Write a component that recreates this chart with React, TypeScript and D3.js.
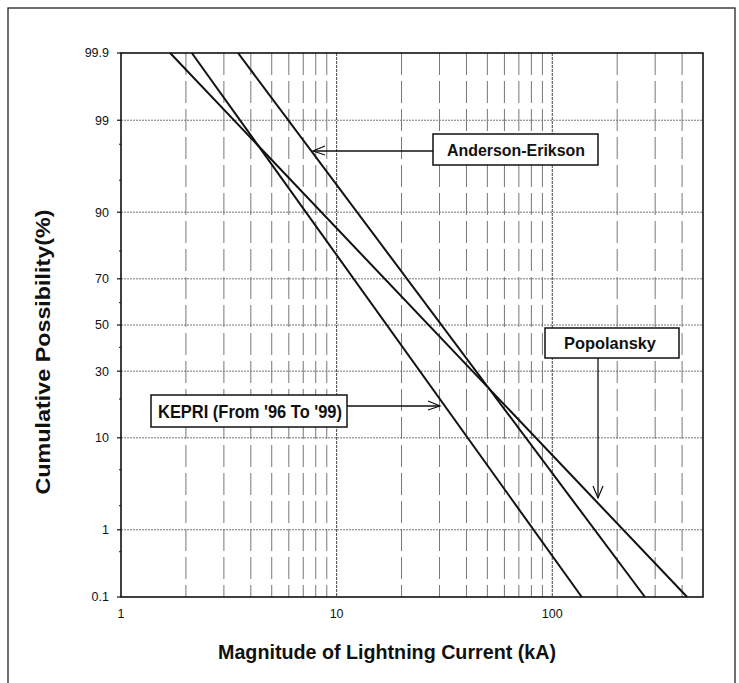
import * as d3 from 'd3'

// y tick probabilities (%)
const probTicks = [0.1, 1, 10, 30, 50, 70, 90, 99, 99.9]
const probMinor = [0.5, 2, 5, 20, 40, 60, 80, 95, 98]
const currentTicks = [1, 10, 100]
const currentGrid = [2, 3, 4, 5, 6, 7, 8, 9, 10, 20, 30, 40, 50, 60, 70, 80, 90, 100, 200, 300, 400]

const kepri = [
  { kA: 2.13, p: 99.9 },
  { kA: 137, p: 0.1 },
]
const andersonErikson = [
  { kA: 3.49, p: 99.9 },
  { kA: 269, p: 0.1 },
]
const popolansky = [
  { kA: 1.69, p: 99.9 },
  { kA: 422, p: 0.1 },
]

// inverse normal cdf (Acklam)
function probit(p: number) {
  const a = [-39.69683028665376, 220.9460984245205, -275.9285104469687, 138.357751867269, -30.66479806614716, 2.506628277459239]
  const b = [-54.47609879822406, 161.5858368580409, -155.6989798598866, 66.80131188771972, -13.28068155288572]
  const c = [-0.007784894002430293, -0.3223964580411365, -2.400758277161838, -2.549671985200290, 4.374664141464968, 2.938163982698783]
  const d = [0.007784695709041462, 0.3224671290700398, 2.445134137142996, 3.754408661907416]
  const pl = 0.02425
  if (p < pl) {
    const q = Math.sqrt(-2 * Math.log(p))
    return (((((c[0] * q + c[1]) * q + c[2]) * q + c[3]) * q + c[4]) * q + c[5]) / ((((d[0] * q + d[1]) * q + d[2]) * q + d[3]) * q + 1)
  }
  if (p <= 1 - pl) {
    const q = p - 0.5
    const r = q * q
    return ((((((a[0] * r + a[1]) * r + a[2]) * r + a[3]) * r + a[4]) * r + a[5]) * q) / (((((b[0] * r + b[1]) * r + b[2]) * r + b[3]) * r + b[4]) * r + 1)
  }
  const q = Math.sqrt(-2 * Math.log(1 - p))
  return -(((((c[0] * q + c[1]) * q + c[2]) * q + c[3]) * q + c[4]) * q + c[5]) / ((((d[0] * q + d[1]) * q + d[2]) * q + d[3]) * q + 1)
}

const W = 739
const H = 683
const left = 121
const right = 703
const top = 53
const bottom = 597
const font = '"Liberation Sans", Arial, Helvetica, sans-serif'

export default function App() {
  const x = d3.scaleLog().domain([1, 500]).range([left, right])
  const z = d3.scaleLinear().domain([probit(0.001), probit(0.999)]).range([bottom, top])
  const y = (p: number) => z(probit(p / 100))

  const line = d3
    .line<{ kA: number; p: number }>()
    .x((d) => x(d.kA))
    .y((d) => y(d.p))

  const series = [kepri, andersonErikson, popolansky]

  return (
    <svg width={W} height={H} style={{ position: 'absolute', left: 0, top: 0, background: '#fff' }} fontFamily={font}>
      <rect x={8} y={8} width={727} height={700} fill="none" stroke="#222" strokeWidth={1.3} />

      {/* horizontal grid */}
      {probTicks.slice(1, -1).map((p) => (
        <line key={'h' + p} x1={left} x2={right} y1={y(p)} y2={y(p)} stroke="#777" strokeWidth={1} strokeDasharray="2 1" />
      ))}
      {/* vertical grid */}
      {currentGrid.map((v) => {
        const major = v === 10 || v === 100
        return (
          <line
            key={'v' + v}
            x1={x(v)}
            x2={x(v)}
            y1={top}
            y2={bottom}
            stroke={major ? '#444' : '#777'}
            strokeWidth={1}
            strokeDasharray={major ? '3 1' : '22 6'}
          />
        )
      })}

      {/* frame */}
      <rect x={left} y={top} width={right - left} height={bottom - top} fill="none" stroke="#111" strokeWidth={1.6} />

      {/* y ticks */}
      {probTicks.map((p) => (
        <g key={'yt' + p}>
          <line x1={left - 4} x2={left} y1={y(p)} y2={y(p)} stroke="#111" strokeWidth={1.2} />
          <text x={109} y={y(p)} dy="0.35em" textAnchor="end" fontSize={12.5} fill="#111">
            {p}
          </text>
        </g>
      ))}
      {probMinor.map((p) => (
        <line key={'ym' + p} x1={left - 2} x2={left} y1={y(p)} y2={y(p)} stroke="#111" strokeWidth={1} />
      ))}

      {/* x ticks */}
      {currentTicks.map((v) => (
        <text key={'xt' + v} x={x(v)} y={618} textAnchor="middle" fontSize={12.5} fill="#111">
          {v}
        </text>
      ))}

      {/* curves */}
      {series.map((s, i) => (
        <path key={'s' + i} d={line(s) || ''} fill="none" stroke="#111" strokeWidth={2} />
      ))}

      {/* Anderson-Erikson label */}
      <line x1={313} x2={433} y1={151} y2={151} stroke="#111" strokeWidth={1.3} />
      <path d="M325,146 L313,151 L325,155" fill="none" stroke="#111" strokeWidth={1.2} />
      <rect x={433} y={134} width={165} height={31} fill="#fff" stroke="#111" strokeWidth={1.5} />
      <text x={516} y={156} textAnchor="middle" fontSize={16.5} fontWeight="bold" fill="#111" textLength={138} lengthAdjust="spacingAndGlyphs">
        Anderson-Erikson
      </text>

      {/* KEPRI label */}
      <line x1={347} x2={440} y1={406} y2={406} stroke="#111" strokeWidth={1.3} />
      <path d="M428,401 L440,406 L428,410" fill="none" stroke="#111" strokeWidth={1.2} />
      <rect x={151} y={395} width={196} height={32} fill="#fff" stroke="#111" strokeWidth={1.5} />
      <text x={250} y={418} textAnchor="middle" fontSize={17.5} fontWeight="bold" fill="#111" textLength={184} lengthAdjust="spacingAndGlyphs">
        KEPRI (From '96 To '99)
      </text>

      {/* Popolansky label */}
      <line x1={598} x2={598} y1={358} y2={498} stroke="#111" strokeWidth={1.3} />
      <path d="M593,486 L598,498 L603,486" fill="none" stroke="#111" strokeWidth={1.2} />
      <rect x={545} y={328} width={134} height={30} fill="#fff" stroke="#111" strokeWidth={1.5} />
      <text x={610} y={349} textAnchor="middle" fontSize={16.5} fontWeight="bold" fill="#111" textLength={92} lengthAdjust="spacingAndGlyphs">
        Popolansky
      </text>

      {/* axis titles */}
      <text x={387} y={659} textAnchor="middle" fontSize={20} fontWeight="bold" fill="#111" textLength={338} lengthAdjust="spacingAndGlyphs">
        Magnitude of Lightning Current (kA)
      </text>
      <text
        transform={`translate(50,352) rotate(-90)`}
        textAnchor="middle"
        fontSize={20}
        fontWeight="bold"
        fill="#111"
        textLength={285}
        lengthAdjust="spacingAndGlyphs"
      >
        Cumulative Possibility(%)
      </text>
    </svg>
  )
}
